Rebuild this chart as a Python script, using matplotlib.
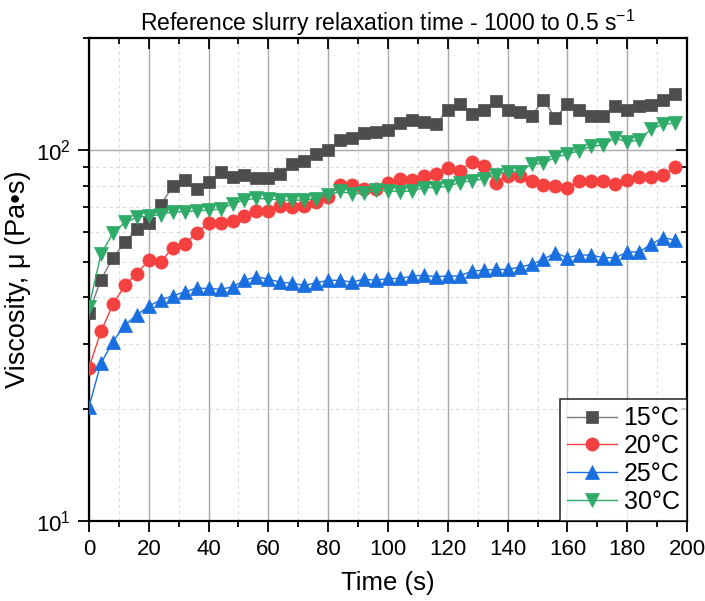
import numpy as np
import matplotlib
matplotlib.use("Agg")
import matplotlib.pyplot as plt
from matplotlib.ticker import LogLocator, MultipleLocator, NullFormatter

plt.rcParams["font.family"] = ["Liberation Sans", "DejaVu Sans"]
plt.rcParams["mathtext.default"] = "regular"

# sampling every 4 s, 0..196 s
time_s = list(range(0, 200, 4))

visc_15 = [36.4, 44.7, 51.0, 56.4, 61.3, 63.6, 71.1, 79.7, 83.0, 78.2,
           81.7, 87.3, 84.6, 85.4, 83.7, 83.7, 86.3, 91.5, 93.0, 97.3,
           99.8, 106.2, 107.5, 111.1, 111.6, 113.2, 117.8, 120.5, 118.5, 117.0,
           128.2, 132.8, 124.8, 127.9, 135.6, 128.2, 126.6, 123.2, 136.4, 121.5,
           132.8, 128.2, 123.2, 123.5, 130.9, 127.9, 130.9, 132.2, 136.4, 141.0]
visc_20 = [25.9, 32.4, 38.3, 43.1, 46.4, 50.4, 49.8, 54.5, 55.9, 59.5,
           63.6, 63.4, 64.1, 66.5, 68.5, 68.4, 70.4, 70.0, 70.7, 72.4,
           74.8, 80.4, 80.6, 78.3, 78.3, 81.3, 83.4, 82.9, 85.1, 86.2,
           89.1, 87.6, 92.8, 90.6, 81.6, 85.1, 85.1, 82.5, 80.6, 79.7,
           78.7, 82.3, 82.5, 82.5, 80.8, 83.0, 84.6, 84.6, 85.6, 89.8]
visc_25 = [20.3, 26.6, 30.4, 33.7, 35.9, 37.9, 39.4, 40.4, 41.4, 42.4,
           42.3, 42.1, 42.7, 44.5, 45.5, 44.8, 44.0, 43.7, 43.1, 43.8,
           44.5, 44.5, 44.0, 44.8, 44.5, 45.0, 45.0, 45.7, 45.9, 45.5,
           45.7, 45.7, 47.1, 47.4, 47.6, 47.6, 48.3, 49.1, 50.7, 52.8,
           51.2, 52.1, 52.0, 51.2, 51.2, 53.0, 53.1, 55.6, 58.0, 57.1]
visc_30 = [37.7, 52.3, 59.6, 63.7, 65.7, 66.4, 66.8, 68.1, 68.1, 68.4,
           68.8, 69.2, 71.5, 73.2, 74.0, 73.6, 73.3, 73.0, 73.3, 73.6,
           75.6, 77.2, 76.1, 76.3, 77.8, 77.5, 77.0, 77.5, 79.0, 79.1,
           79.7, 81.6, 82.5, 83.4, 85.6, 87.3, 87.3, 91.3, 92.1, 95.4,
           97.3, 99.4, 102.1, 103.0, 107.7, 104.7, 106.4, 113.7, 117.0, 118.0]

labels = ["15°C", "20°C", "25°C", "30°C"]
series = [visc_15, visc_20, visc_25, visc_30]
colors = ["#4d4d4d", "#f54040", "#1a6fe0", "#2eab68"]
line_colors = ["#7a7a7a", "#f54040", "#1a6fe0", "#2eab68"]
markers = ["s", "o", "^", "v"]
msizes = [8.5, 9.5, 10, 10]

fig = plt.figure(figsize=(7.05, 6.01), dpi=100)
ax = fig.add_axes([0.1262, 0.1331, 0.8483, 0.8037])

for y, lab, c, lc, m, ms in zip(series, labels, colors, line_colors, markers, msizes):
    ax.plot(time_s, y, color=lc, lw=1.0, marker=m, ms=ms,
            markerfacecolor=c, markeredgecolor=c, markeredgewidth=0.5,
            label=lab, zorder=3)

ax.set_yscale("log")
ax.set_xlim(0, 200)
ax.set_ylim(10, 200)
ax.xaxis.set_major_locator(MultipleLocator(20))
ax.xaxis.set_minor_locator(MultipleLocator(10))
ax.yaxis.set_major_locator(LogLocator(base=10))
ax.yaxis.set_minor_locator(LogLocator(base=10, subs=np.arange(2, 10)))
ax.yaxis.set_minor_formatter(NullFormatter())

# grid: solid major, dashed minor
ax.grid(which="major", color="#a8a8a8", lw=1.0, ls="-", zorder=0)
ax.grid(which="minor", color="#dcdcdc", lw=0.8, ls=(0, (3, 3)), zorder=0)
ax.set_axisbelow(True)

for s in ax.spines.values():
    s.set_linewidth(1.6)
    s.set_color("black")

ax.tick_params(which="both", labelsize=16, width=1.3, color="black")
ax.tick_params(which="major", length=8, pad=5)
ax.tick_params(which="minor", length=4.5)
ax.tick_params(which="both", left=True, bottom=True, direction="out")
ax.tick_params(which="both", top=True, right=True)
for t in ax.xaxis.get_ticklines(minor=False)[1::2] + ax.xaxis.get_ticklines(minor=True)[1::2]:
    t.set_marker(3)  # top ticks point down into the plot
for t in ax.yaxis.get_ticklines(minor=False)[1::2] + ax.yaxis.get_ticklines(minor=True)[1::2]:
    t.set_marker(0)  # right ticks point left into the plot

ax.set_xlabel("Time (s)", fontsize=18.5, labelpad=8)
ax.set_ylabel("Viscosity, μ (Pa•s)", fontsize=19.5, labelpad=4)
ax.set_title("Reference slurry relaxation time - 1000 to 0.5 s$^{-1}$",
             fontsize=16.5, pad=5)

leg = ax.legend(loc="lower right", fontsize=18, frameon=True, fancybox=False,
                borderaxespad=0, handlelength=2.0, handletextpad=0.25,
                borderpad=0.3, labelspacing=0.15)
leg.get_frame().set_edgecolor("black")
leg.get_frame().set_linewidth(1.2)

fig.savefig("out.png", dpi=100)
